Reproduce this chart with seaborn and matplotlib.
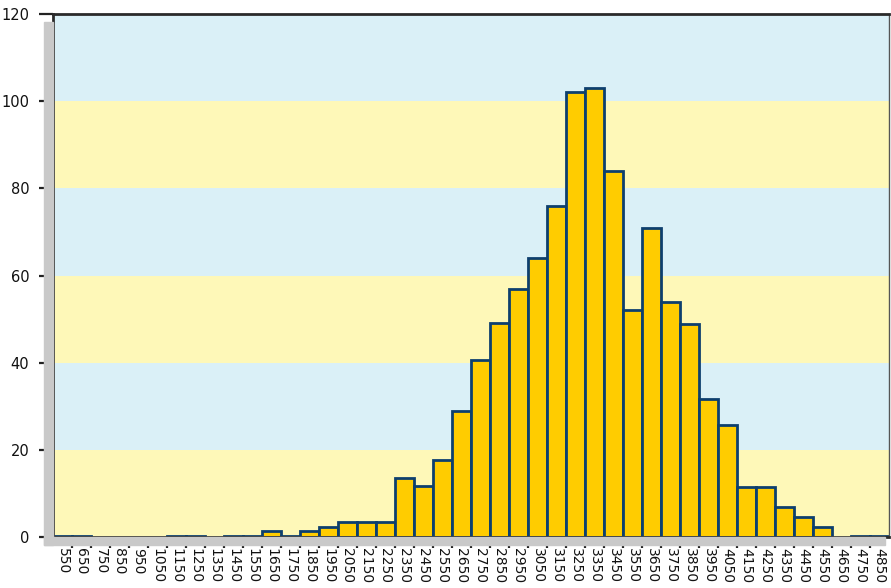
import matplotlib
matplotlib.use("Agg")
import matplotlib.pyplot as plt
from matplotlib.patches import Rectangle
import seaborn as sns
import pandas as pd
import numpy as np

# bin labels (bin centres) and counts
bins = [550, 650, 750, 850, 950, 1050, 1150, 1250, 1350, 1450, 1550, 1650,
        1750, 1850, 1950, 2050, 2150, 2250, 2350, 2450, 2550, 2650, 2750,
        2850, 2950, 3050, 3150, 3250, 3350, 3450, 3550, 3650, 3750, 3850,
        3950, 4050, 4150, 4250, 4350, 4450, 4550, 4650, 4750, 4850]
counts = [0.3, 0.3, 0, 0, 0, 0, 0.3, 0.3, 0, 0.3, 0.3, 1.3,
          0.3, 1.3, 2.2, 3.5, 3.5, 3.5, 13.5, 11.7, 17.7, 29, 40.6,
          49, 56.8, 64, 76, 102, 103, 84, 52, 71, 54, 48.8,
          31.6, 25.6, 11.5, 11.5, 6.8, 4.6, 2.4, 0, 0.3, 0.3]
yticks = [0, 20, 40, 60, 80, 100, 120]

df = pd.DataFrame({"bin": [str(b) for b in bins], "count": counts})
df.loc[df["count"] == 0, "count"] = np.nan

sns.set_style("white")
plt.rcParams["font.family"] = ["DejaVu Sans"]

fig = plt.figure(figsize=(8.91, 5.88), dpi=100)
ax = fig.add_axes([53 / 891, 1 - 537 / 588, 836 / 891, 523 / 588])

# grey shadow to the left and below the plot area
fig.patches.append(Rectangle((44 / 891, 1 - 545 / 588), 9 / 891, 523 / 588,
                             transform=fig.transFigure, color="#c9c9c9", zorder=0))
fig.patches.append(Rectangle((44 / 891, 1 - 545 / 588), 841 / 891, 8 / 588,
                             transform=fig.transFigure, color="#c9c9c9", zorder=0))

# alternating background bands
for i, lo in enumerate(yticks[:-1]):
    ax.axhspan(lo, lo + 20, color="#fef8b8" if i % 2 == 0 else "#daf0f7", zorder=0, lw=0)

sns.barplot(data=df, x="bin", y="count", ax=ax, color="#ffcc00", width=1,
            edgecolor="#0d3f6e", linewidth=2, saturation=1, zorder=2)

ax.set_xlim(-0.5, len(bins) - 0.5)
ax.set_ylim(0, 120)
ax.set_yticks(yticks)
ax.set_xlabel("")
ax.set_ylabel("")
ax.set_xticks(range(len(bins)))
ax.set_xticklabels(bins, rotation=-90, fontsize=10, color="#111111")
ax.tick_params(axis="x", which="major", bottom=True, length=0, pad=8)
ax.set_xticks(np.arange(len(bins) - 1) + 0.5, minor=True)
ax.tick_params(axis="x", which="minor", bottom=True, length=8, width=1.6,
               color="#222222", direction="out")
ax.tick_params(axis="y", left=True, length=10, width=1.6, color="#222222",
               labelsize=10.5, labelcolor="#111111", pad=7)
for side in ["left", "bottom", "top"]:
    ax.spines[side].set_color("#2a2a2a")
    ax.spines[side].set_linewidth(2)
ax.spines["right"].set_color("#555555")
ax.spines["right"].set_linewidth(1)
ax.grid(False)

fig.savefig("out.png", dpi=100)
